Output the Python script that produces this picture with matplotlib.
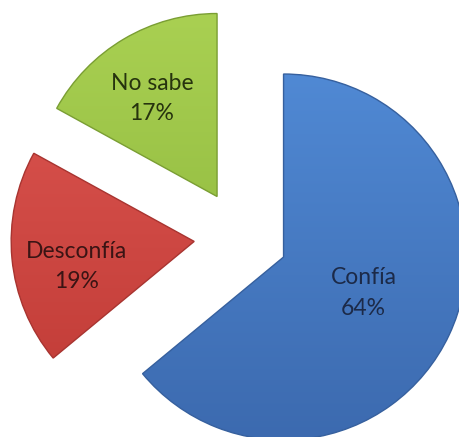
import numpy as np
import matplotlib
matplotlib.use("Agg")
import matplotlib.pyplot as plt
from matplotlib.colors import LinearSegmentedColormap

labels = ["Confía", "Desconfía", "No sabe"]
values = [64, 19, 17]
pct_labels = ["64%", "19%", "17%"]

# light / dark ends of each slice's gradient, plus edge and text colours
light = ["#5089d4", "#dc5550", "#a9d052"]
dark = ["#3c6aaf", "#bf3a35", "#8ab43a"]
edges = ["#36609e", "#a83430", "#7a9e33"]
text_cols = ["#1c2a48", "#3a1414", "#26330e"]
label_frac = [0.48, 0.655, 0.643]  # where the text sits along each slice
label_turn = [1.0, 6.6, 3.0]       # small angular nudge (deg) off the mid-line

W, H = 460, 437
fig = plt.figure(figsize=(W / 100, H / 100), dpi=100)
ax = fig.add_axes([0, 0, 1, 1])

R = 183
# explode is in data units in matplotlib, so scale by the radius
wedges, _ = ax.pie(
    values,
    center=(241, 200),
    radius=R,
    startangle=90,
    counterclock=False,
    explode=[0.257 * R] * 3,
    colors=light,
    wedgeprops=dict(linewidth=1.0),
    frame=True,
)
ax.set_xlim(0, W)
ax.set_ylim(0, H)
ax.set_aspect("equal")
ax.axis("off")

grad = np.linspace(0, 1, 256).reshape(-1, 1)
for i, w in enumerate(wedges):
    w.set_edgecolor(edges[i])
    w.set_zorder(3)
    # vertical gradient clipped to the slice
    cmap = LinearSegmentedColormap.from_list("g%d" % i, [dark[i], light[i]])
    cx, cy = w.center
    im = ax.imshow(grad, cmap=cmap, origin="lower", aspect="auto",
                   extent=(cx - R, cx + R, cy - R, cy + R), zorder=2)
    im.set_clip_path(w)
    w.set_facecolor("none")

    mid = np.deg2rad((w.theta1 + w.theta2) / 2 + label_turn[i])
    tx = cx + label_frac[i] * R * np.cos(mid)
    ty = cy + label_frac[i] * R * np.sin(mid)
    ax.text(tx, ty, labels[i] + "\n" + pct_labels[i], ha="center", va="center",
            fontsize=16.5, family="Lato", color=text_cols[i],
            linespacing=1.55, zorder=5)

ax.set_xlim(0, W)
ax.set_ylim(0, H)
fig.savefig("out.png", dpi=100)
